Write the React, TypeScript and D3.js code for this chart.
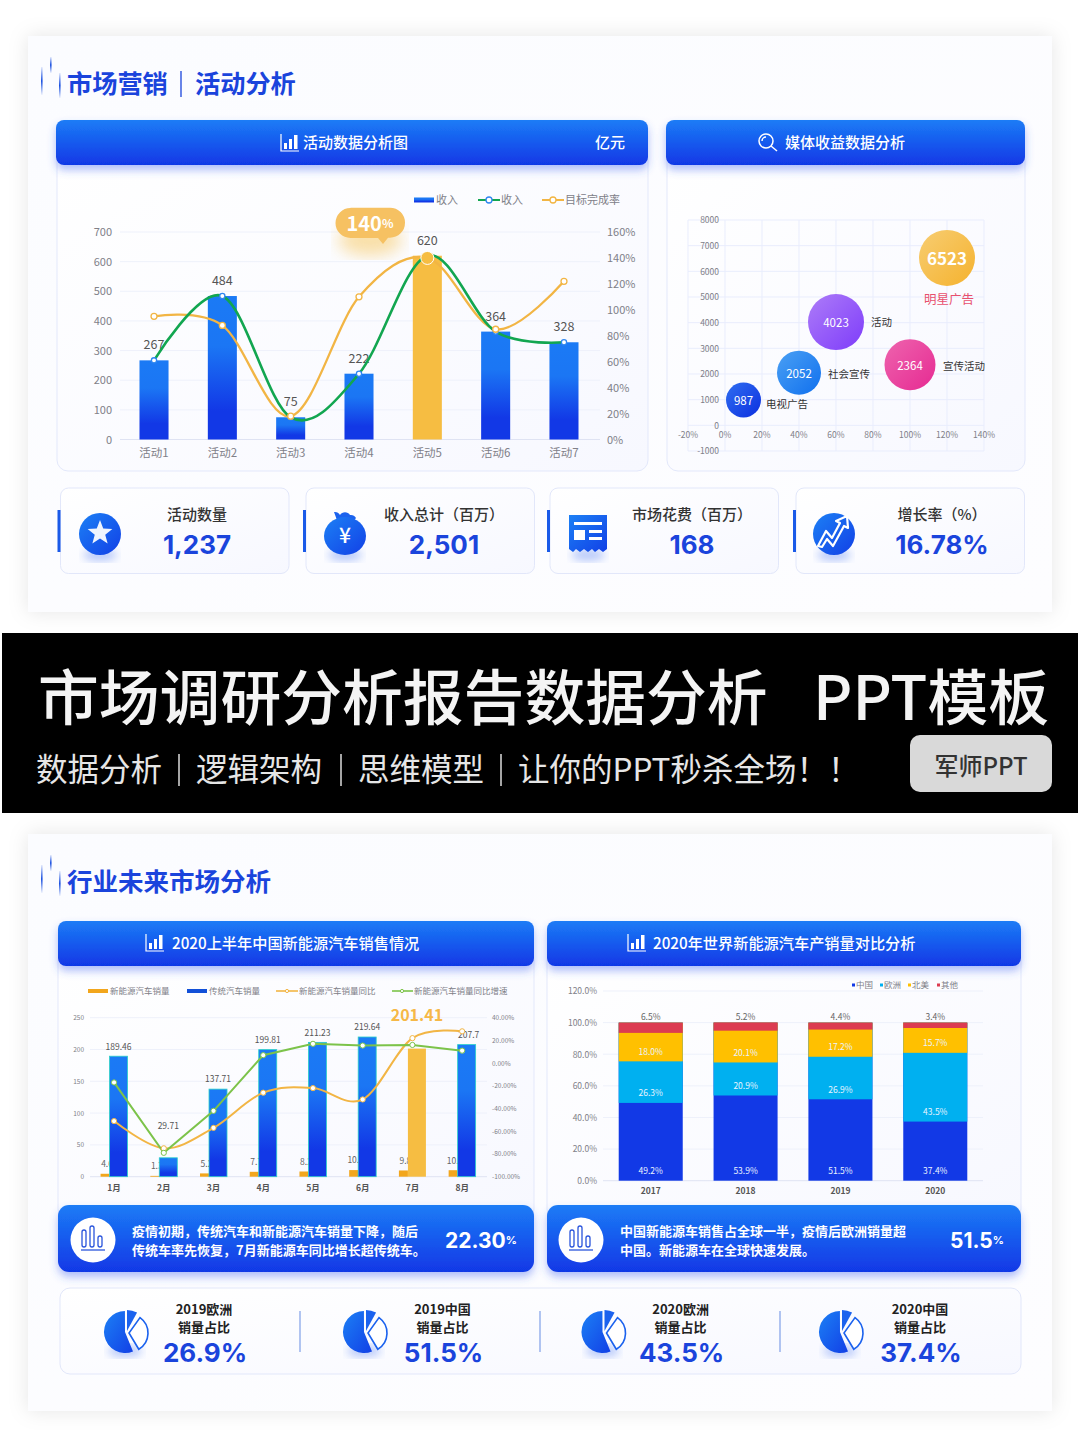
import React from "react";
import * as d3 from "d3";

const activityCats = ["活动1", "活动2", "活动3", "活动4", "活动5", "活动6", "活动7"];
const activityRevenue = [267, 484, 75, 222, 620, 364, 328];
const activityRate = [95, 88, 18, 110, 140, 85, 122];
const leftTicks = [0, 100, 200, 300, 400, 500, 600, 700];
const rightTicks = [0, 20, 40, 60, 80, 100, 120, 140, 160];

const bubbleNames = ["电视广告", "社会宣传", "活动", "宣传活动", "明星广告"];
const bubbleX = [10, 40, 60, 100, 120];
const bubbleY = [987, 2052, 4023, 2364, 6523];
const bubbleSize = [306, 484, 784, 650, 784];
const bubbleXTicks = [-20, 0, 20, 40, 60, 80, 100, 120, 140];
const bubbleYTicks = [-1000, 0, 1000, 2000, 3000, 4000, 5000, 6000, 7000, 8000];

const months = ["1月", "2月", "3月", "4月", "5月", "6月", "7月", "8月"];
const newEnergy = [4.6, 1.3, 5.2, 7.7, 8.2, 10.4, 9.8, 10.2];
const newEnergyLabels = ["4.6", "1.3", "5.2", "7.7", "8.2", "10.4", "9.8", "10.2"];
const traditional = [189.46, 29.71, 137.71, 199.81, 211.23, 219.64, 201.41, 207.7];
const newEnergyYoY = [-51, -75, -57, -26, -22, -32, 22, 28];
const newEnergyGrowth = [-17, -79, -42, 7, 17, 15.5, 16, 11];
const salesTicks = [0, 50, 100, 150, 200, 250];
const pctTicks = [40, 20, 0, -20, -40, -60, -80, -100];

const years = ["2017", "2018", "2019", "2020"];
const regionNames = ["中国", "欧洲", "北美", "其他"];
const regionColors = ["#1239e6", "#00b0f0", "#ffc000", "#dc3b50"];
const china = [49.2, 53.9, 51.5, 37.4];
const europe = [26.3, 20.9, 26.9, 43.5];
const northAmerica = [18.0, 20.1, 17.2, 15.7];
const others = [6.5, 5.2, 4.4, 3.4];
const shareTicks = [0, 20, 40, 60, 80, 100, 120];

const statTitles = ["活动数量", "收入总计（百万）", "市场花费（百万）", "增长率（%）"];
const statValues = ["1,237", "2,501", "168", "16.78%"];
const shareTitles = ["2019欧洲", "2019中国", "2020欧洲", "2020中国"];
const shareValues = ["26.9%", "51.5%", "43.5%", "37.4%"];

const CJK = '"Noto Sans CJK SC", "Noto Sans", sans-serif';
const NUM = 'Inter, "Noto Sans", sans-serif';
const BLUE = "#1a44dc";
const GRAY = "#808088";
const GRID = "#eef1fb";

const smooth = d3.curveCardinal.tension(0);

const T = ({ x, y, s = 11, c = GRAY, a = "start", w = 400, f = CJK, children, op }: any) => (
  <text x={x} y={f === CJK ? y - s * 0.08 : y - 1} fontSize={s} fill={c} textAnchor={a} fontWeight={w} fontFamily={f} dominantBaseline="central" opacity={op}>
    {children}
  </text>
);

const Dot = ({ x, y, r = 3, c, f = "#fff", sw = 1.3 }: any) => <circle cx={x} cy={y} r={r} fill={f} stroke={c} strokeWidth={sw} />;

const ChartIcon = ({ x, y }: any) => (
  <g transform={`translate(${x},${y})`} fill="#fff">
    <path d="M0 0V17H18" fill="none" stroke="#fff" strokeWidth="1.2" />
    <rect x="3" y="9" width="3" height="6" />
    <rect x="8" y="5" width="3" height="10" />
    <rect x="13" y="1" width="3.5" height="14" />
  </g>
);

const SectionTitle = ({ y, children }: any) => (
  <g>
    <rect x={41} y={y - 17} width={1.6} height={28} fill="url(#fadeLine)" />
    <rect x={50} y={y - 27} width={1.6} height={16} fill="url(#fadeLine)" />
    <rect x={59} y={y - 11} width={1.6} height={25} fill="url(#fadeLine)" />
    {children}
  </g>
);

const Header = ({ x, y, w, h = 45 }: any) => (
  <rect x={x} y={y} width={w} height={h} rx={8} fill="url(#headGrad)" filter="url(#blueShadow)" />
);

const Panel = ({ x, y, w, h }: any) => (
  <rect x={x} y={y} width={w} height={h} rx={11} fill="url(#panelGrad)" stroke="#e3e8fb" strokeWidth="1" />
);

function ActivityChart() {
  const x = d3.scaleBand<string>().domain(activityCats).range([119.85, 598.15]).paddingInner(0.575).paddingOuter(0.2875);
  const y = d3.scaleLinear().domain([0, 700]).range([439.5, 232]);
  const y2 = d3.scaleLinear().domain([0, 160]).range([439.5, 232]);
  const cx = (c: string) => x(c)! + x.bandwidth() / 2;
  const greenLine = d3.line<number>().x((_, i) => cx(activityCats[i])).y((d) => y(d)).curve(smooth);
  const orangeLine = d3.line<number>().x((_, i) => cx(activityCats[i])).y((d) => y2(d)).curve(smooth);
  return (
    <g>
      <rect x={414} y={197.5} width={20} height={5} fill="url(#barGrad)" />
      <T x={436} y={200} s={11}>收入</T>
      <line x1={478} x2={500} y1={200} y2={200} stroke="#12a650" strokeWidth="2" />
      <Dot x={489} y={200} c="#2f86f0" />
      <T x={501} y={200} s={11}>收入</T>
      <line x1={542} x2={564} y1={200} y2={200} stroke="#f2b544" strokeWidth="2" />
      <Dot x={553} y={200} c="#f2b544" />
      <T x={565} y={200} s={11}>目标完成率</T>

      {leftTicks.map((t) => (
        <g key={t}>
          <line x1={120} x2={600} y1={y(t)} y2={y(t)} stroke={t === 0 ? "#dfe3f3" : GRID} strokeWidth="1" />
          <T x={112} y={y(t)} a="end" s={11}>{t}</T>
        </g>
      ))}
      {rightTicks.map((t) => (
        <T key={t} x={607} y={y2(t)} s={11}>{t}%</T>
      ))}
      {activityCats.map((c, i) => (
        <g key={c}>
          <rect x={x(c)} y={y(activityRevenue[i])} width={x.bandwidth()} height={y(0) - y(activityRevenue[i])} fill={i === 4 ? "#f6bd42" : "url(#barGrad)"} />
          <T x={cx(c)} y={453} a="middle" s={11.5}>{c}</T>
          <T x={cx(c)} y={y(activityRevenue[i]) - 15.5} a="middle" s={12.5} c="#555">{activityRevenue[i]}</T>
        </g>
      ))}
      <path d={orangeLine(activityRate)!} fill="none" stroke="#f2b544" strokeWidth="2.3" />
      <path d={greenLine(activityRevenue)!} fill="none" stroke="#12a650" strokeWidth="2.6" />
      {activityCats.map((c, i) => i !== 4 && <Dot key={c} x={cx(c)} y={y(activityRevenue[i])} c="#2f86f0" r={2.6} />)}
      {activityCats.map((c, i) => i !== 4 && <Dot key={c} x={cx(c)} y={y2(activityRate[i])} c="#f2b544" r={3} />)}
      <Dot x={cx("活动5")} y={y2(140)} c="#fff" f="#f6bd42" r={6.5} sw={1} />
      <ellipse cx={370} cy={240} rx={32} ry={16} fill="#f6bd42" opacity="0.45" filter="url(#blur8)" />
      <path d="M350.5 207.7H390a15 15 0 0 1 15 15a15 15 0 0 1-15 15H388L383 244L378 238H350.5a15 15 0 0 1-15-15a15 15 0 0 1 15-15z" fill="#f6c162" />
      <text x={370} y={222} textAnchor="middle" dominantBaseline="central" fill="#fff" fontFamily={CJK} fontWeight={700}>
        <tspan fontSize={20}>140</tspan>
        <tspan fontSize={12}>%</tspan>
      </text>
    </g>
  );
}

function BubbleChart() {
  const x = d3.scaleLinear().domain([-20, 140]).range([688, 984]);
  const y = d3.scaleLinear().domain([-1000, 8000]).range([451, 220]);
  const r = d3.scaleSqrt().domain([0, 784]).range([0, 28]);
  const grads = ["bub0", "bub1", "bub2", "bub3", "bub4"];
  const labelX = [766, 828, 871, 943, 949];
  const labelY = [404, 374, 322, 366, 299];
  return (
    <g>
      {bubbleXTicks.map((t) => (
        <line key={t} x1={x(t)} x2={x(t)} y1={220} y2={451} stroke="#e9edfd" />
      ))}
      {bubbleYTicks.map((t) => (
        <g key={t}>
          <line x1={688} x2={984} y1={y(t)} y2={y(t)} stroke="#e9edfd" />
          <T x={719} y={y(t)} s={8.5} a="end">{t}</T>
        </g>
      ))}
      {bubbleXTicks.map((t) => (
        <T key={t} x={x(t)} y={435} s={8.5} a="middle">{t}%</T>
      ))}
      {bubbleNames.map((n, i) => {
        const last = i === 4;
        return (
          <g key={n}>
            <circle cx={x(bubbleX[i])} cy={y(bubbleY[i])} r={r(bubbleSize[i])} fill={`url(#${grads[i]})`} />
            <T x={x(bubbleX[i])} y={y(bubbleY[i]) + 1} a="middle" c="#fff" s={last ? 17 : 11.5} w={last ? 700 : 400}>{bubbleY[i]}</T>
            <T x={labelX[i]} y={labelY[i]} a={last ? "middle" : "start"} c={last ? "#e8506e" : "#333"} s={last ? 12.5 : 10.5}>{n}</T>
          </g>
        );
      })}
    </g>
  );
}

function SalesChart() {
  const x = d3.scaleBand<string>().domain(months).range([89.2, 487]).paddingInner(0.457).paddingOuter(0.2285);
  const y = d3.scaleLinear().domain([0, 250]).range([1176.7, 1017.7]);
  const y2 = d3.scaleLinear().domain([-100, 40]).range([1176.7, 1017.7]);
  const cx = (m: string) => x(m)! + x.bandwidth() / 2;
  const lineA = d3.line<number>().x((_, i) => cx(months[i])).y((d) => y2(d)).curve(smooth);
  const lineB = d3.line<number>().x((_, i) => cx(months[i])).y((d) => y2(d));
  const bw = x.bandwidth();
  const small = bw / 3;
  const big = (bw * 2) / 3;
  const labelGap = [10, 32, 10, 10, 10, 10, 33, 10];
  return (
    <g>
      <rect x={88} y={989} width={20} height={4} fill="#f2a61d" />
      <T x={110} y={991} s={8.5}>新能源汽车销量</T>
      <rect x={187} y={989} width={20} height={4} fill="#1250d8" />
      <T x={209} y={991} s={8.5}>传统汽车销量</T>
      <line x1={276} x2={298} y1={991} y2={991} stroke="#f2b544" strokeWidth="1.6" />
      <Dot x={287} y={991} c="#f2b544" r={1.6} sw={1} />
      <T x={299} y={991} s={8.5}>新能源汽车销量同比</T>
      <line x1={392} x2={413} y1={991} y2={991} stroke="#7cc34a" strokeWidth="1.6" />
      <Dot x={402} y={991} c="#7cc34a" r={1.6} sw={1} />
      <T x={414} y={991} s={8.5}>新能源汽车销量同比增速</T>
      {salesTicks.map((t) => (
        <g key={t}>
          <line x1={90} x2={487} y1={y(t)} y2={y(t)} stroke={t === 0 ? "#dfe3f3" : GRID} />
          <T x={84} y={y(t)} s={6.5} a="end">{t}</T>
        </g>
      ))}
      {pctTicks.map((t) => (
        <T key={t} x={492} y={y2(t)} s={6.5}>{t.toFixed(2)}%</T>
      ))}
      {months.map((m, i) => (
        <g key={m}>
          <rect x={x(m)} y={y(newEnergy[i])} width={small} height={y(0) - y(newEnergy[i])} fill="#f2a61d" />
          <T x={x(m)! + small / 2 + 2} y={y(newEnergy[i]) - 10} a="middle" s={8.5} c="#666">{newEnergyLabels[i]}</T>
        </g>
      ))}
      {months.map((m, i) => (
        <g key={m}>
          <rect x={x(m)! + small} y={y(traditional[i])} width={big} height={y(0) - y(traditional[i])} fill={i === 6 ? "#f6bd42" : "url(#barGrad)"} stroke={i === 6 ? "none" : "#2bd0c8"} strokeWidth="0.8" />
          <T x={x(m)! + small + big / 2 + (i === 7 ? 2 : 0)} y={y(traditional[i]) - labelGap[i]} a="middle" s={i === 6 ? 16 : 8.5} w={i === 6 ? 700 : 400} c={i === 6 ? "#f6b847" : "#555"}>{traditional[i]}</T>
          <T x={cx(m)} y={1188} a="middle" s={8.5} w={700} c="#555">{m}</T>
        </g>
      ))}
      <path d={lineA(newEnergyYoY)!} fill="none" stroke="#f2b544" strokeWidth="2" />
      <path d={lineB(newEnergyGrowth)!} fill="none" stroke="#7cc34a" strokeWidth="2" />
      {months.map((m, i) => <Dot key={m} x={cx(m)} y={y2(newEnergyYoY[i])} c="#f2b544" r={2.6} sw={1} />)}
      {months.map((m, i) => <Dot key={m} x={cx(m)} y={y2(newEnergyGrowth[i])} c="#7cc34a" r={2.6} sw={1} />)}
    </g>
  );
}

function ShareChart() {
  const x = d3.scaleBand<string>().domain(years).range([603.3, 982.7]).paddingInner(0.325).paddingOuter(0.1625);
  const y = d3.scaleLinear().domain([0, 120]).range([1180.7, 991]);
  const rows = years.map((yr, i) => ({ yr, a: china[i], b: europe[i], c: northAmerica[i], d: others[i] }));
  const series = d3.stack<any>().keys(["a", "b", "c", "d"])(rows);
  const legendX = [852, 880, 908, 937];
  return (
    <g>
      {regionNames.map((n, i) => (
        <g key={n}>
          <rect x={legendX[i]} y={983.5} width={3} height={3} fill={regionColors[i]} />
          <T x={legendX[i] + 4} y={985} s={8.5}>{n}</T>
        </g>
      ))}
      {shareTicks.map((t) => (
        <g key={t}>
          <line x1={603} x2={983} y1={y(t)} y2={y(t)} stroke={t === 0 ? "#dfe3f3" : GRID} />
          <T x={597} y={y(t)} a="end" s={8.5}>{t.toFixed(1)}%</T>
        </g>
      ))}
      {series.map((s, k) =>
        s.map((d, i) => {
          const x0 = x(years[i])!;
          const top = Math.min(y(d[1]), y(100));
          return <rect key={`${k}-${i}`} x={x0} y={top} width={x.bandwidth()} height={y(d[0]) - top} fill={regionColors[k]} />;
        })
      )}
      {series.map((s, k) =>
        s.map((d, i) => {
          const mid = x(years[i])! + x.bandwidth() / 2;
          const ly = k === 3 ? y(100) - 6 : y(d[0]) - 10;
          return (
            <T key={`${k}-${i}`} x={mid} y={ly} a="middle" s={8.5} c={k === 3 ? "#666" : "#eaf4ff"}>{(d[1] - d[0]).toFixed(1)}%</T>
          );
        })
      )}
      {years.map((yr) => (
        <T key={yr} x={x(yr)! + x.bandwidth() / 2} y={1191} a="middle" s={8.5} w={700} c="#555">{yr}</T>
      ))}
    </g>
  );
}

const starPath = (cx: number, cy: number, R: number, r: number) =>
  d3.range(10).map((i) => {
    const a = -Math.PI / 2 + (i * Math.PI) / 5;
    const q = i % 2 ? r : R;
    return `${i ? "L" : "M"}${cx + q * Math.cos(a)} ${cy + q * Math.sin(a)}`;
  }).join("") + "Z";

const IconShadow = ({ x, y }: any) => <ellipse cx={x} cy={y + 20} rx={17} ry={6} fill="#3a6cf0" opacity="0.35" filter="url(#blur4)" />;

function StatCards() {
  const cards = [60.5, 306, 550, 796];
  const iconX = [100, 345, 588, 834];
  const textX = [197, 444, 692, 942];
  return (
    <g>
      {cards.map((cx, i) => (
        <g key={i}>
          <rect x={cx} y={488} width={228.5} height={85.5} rx={8} fill="url(#panelGrad)" stroke="#e2e7fa" />
          <rect x={cx - 3} y={510} width={3} height={42} fill="#1a5ae8" />
          <IconShadow x={iconX[i]} y={535} />
          <T x={textX[i]} y={514.5} a="middle" s={15} c="#333" w={500}>{statTitles[i]}</T>
          <T x={textX[i]} y={545} a="middle" s={26} c={BLUE} w={700} f={NUM}>{statValues[i]}</T>
        </g>
      ))}
      <circle cx={100} cy={534} r={21} fill="url(#iconGrad)" />
      <path d={starPath(100, 533, 13, 5.5)} fill="#fff" opacity="0.93" />
      <g>
        <path d="M334 512a6 6 0 0 1 6 3a6 6 0 0 1 10 0a6 6 0 0 1 6 3l-4 5h-14z" fill="#1b62ee" />
        <ellipse cx={345} cy={536} rx={21} ry={19} fill="url(#iconGrad)" />
        <T x={345} y={536} a="middle" s={21} c="#fff" w={500}>¥</T>
      </g>
      <g>
        <path d="M569 515h38v34l-4 3l-4-3l-4 3l-3-3l-4 3l-4-3l-4 3l-4-3l-3 3l-4-3z" fill="url(#iconGrad)" />
        <rect x={574} y={522} width={28} height={3} fill="#fff" />
        <rect x={574} y={530} width={11} height={10} fill="#fff" />
        <rect x={589} y={530} width={13} height={3} fill="#fff" />
        <rect x={589} y={537} width={13} height={3} fill="#fff" />
      </g>
      <circle cx={834} cy={534} r={21} fill="url(#iconGrad)" />
      <path d="M818 546l8-15l6 7l8-15l-4-2l11-5l1 12l-4-2l-11 20l-6-7l-5 8z" fill="none" stroke="#fff" strokeWidth="2.2" strokeLinejoin="round" />
    </g>
  );
}

function PieIcon({ x, y }: any) {
  const arc = d3.arc<any>().innerRadius(0).outerRadius(21);
  return (
    <g transform={`translate(${x},${y})`}>
      <ellipse cx={0} cy={19} rx={17} ry={6} fill="#3a6cf0" opacity="0.35" filter="url(#blur4)" />
      <path d={arc({ startAngle: 2.75, endAngle: 6.28 })!} fill="url(#iconGrad)" />
      <path transform="translate(2,-1)" d={arc({ startAngle: 0, endAngle: 0.5 })!} fill="#1b62ee" />
      <path transform="translate(4,1)" d={d3.arc<any>().innerRadius(0).outerRadius(19)({ startAngle: 0.62, endAngle: 2.6 })!} fill="#fff" stroke="#1b62ee" strokeWidth="1.6" />
    </g>
  );
}

function Callout({ x, w, cx, lines, textX, value, unit, vx }: any) {
  return (
    <g>
      <rect x={x} y={1205} width={w} height={67} rx={11} fill="url(#headGrad)" filter="url(#blueShadow)" />
      <circle cx={cx} cy={1240} r={22.5} fill="#fff" />
      <g stroke="#2a55dc" strokeWidth="1.3" fill="none">
        <rect x={cx - 11} y={1230} width={4} height={17} rx={2} />
        <rect x={cx - 3} y={1226} width={4} height={21} rx={2} />
        <rect x={cx + 5} y={1236} width={4} height={11} rx={2} />
        <line x1={cx - 12} x2={cx + 12} y1={1250} y2={1250} />
      </g>
      {lines.map((l: string, i: number) => (
        <T key={i} x={textX} y={1231.5 + i * 19} s={13} c="#fff" w={700}>{l}</T>
      ))}
      <text x={vx} y={1240} dominantBaseline="central" fill="#fff" fontFamily={NUM} fontWeight={700}>
        <tspan fontSize={21}>{value}</tspan>
        <tspan fontSize={11}>{unit}</tspan>
      </text>
    </g>
  );
}

export default function App() {
  const pieX = [125, 364, 602.5, 840];
  const shareX = [204, 442.5, 680.6, 920];
  return (
    <svg width={1080} height={1441} viewBox="0 0 1080 1441" style={{ position: "absolute", left: 0, top: 0, display: "block" }}>
      <defs>
        <linearGradient id="headGrad" x1="0" x2="0" y1="0" y2="1">
          <stop offset="0" stopColor="#1c7cf6" />
          <stop offset="1" stopColor="#1138e6" />
        </linearGradient>
        <linearGradient id="barGrad" x1="0" x2="0" y1="0" y2="1">
          <stop offset="0" stopColor="#1b7af5" />
          <stop offset="0.35" stopColor="#1b76f4" />
          <stop offset="0.8" stopColor="#1238e6" />
          <stop offset="1" stopColor="#1238e6" />
        </linearGradient>
        <linearGradient id="panelGrad" x1="0" x2="1" y1="0" y2="1">
          <stop offset="0" stopColor="#ffffff" />
          <stop offset="1" stopColor="#f7f8ff" />
        </linearGradient>
        <linearGradient id="cardGrad" x1="0" x2="1" y1="0" y2="1">
          <stop offset="0" stopColor="#fbfcff" />
          <stop offset="1" stopColor="#fdfdff" />
        </linearGradient>
        <linearGradient id="iconGrad" x1="0" x2="1" y1="0" y2="1">
          <stop offset="0" stopColor="#1c80f5" />
          <stop offset="1" stopColor="#1240e6" />
        </linearGradient>
        <linearGradient id="fadeLine" x1="0" x2="0" y1="0" y2="1">
          <stop offset="0" stopColor="#1a50e0" stopOpacity="0.1" />
          <stop offset="0.5" stopColor="#1a50e0" />
          <stop offset="1" stopColor="#1a50e0" stopOpacity="0.05" />
        </linearGradient>
        <linearGradient id="bub0" x1="0" x2="1" y1="0" y2="1"><stop offset="0" stopColor="#2f6ef0" /><stop offset="1" stopColor="#0d2fe0" /></linearGradient>
        <linearGradient id="bub1" x1="0" x2="1" y1="0" y2="1"><stop offset="0" stopColor="#4aa0f4" /><stop offset="1" stopColor="#1070ee" /></linearGradient>
        <linearGradient id="bub2" x1="0" x2="1" y1="0" y2="1"><stop offset="0" stopColor="#ad7cf8" /><stop offset="1" stopColor="#7e3cfa" /></linearGradient>
        <linearGradient id="bub3" x1="0" x2="1" y1="0" y2="1"><stop offset="0" stopColor="#ee64ae" /><stop offset="1" stopColor="#e62a92" /></linearGradient>
        <linearGradient id="bub4" x1="0" x2="1" y1="0" y2="1"><stop offset="0" stopColor="#f7cd72" /><stop offset="1" stopColor="#f5b22e" /></linearGradient>
        <filter id="blueShadow" x="-5%" y="-20%" width="110%" height="160%">
          <feDropShadow dx="0" dy="5" stdDeviation="4" floodColor="#3a5cf0" floodOpacity="0.4" />
        </filter>
        <filter id="cardShadow" x="-5%" y="-5%" width="110%" height="110%">
          <feDropShadow dx="0" dy="0" stdDeviation="10" floodColor="#000" floodOpacity="0.1" />
        </filter>
        <filter id="blur8"><feGaussianBlur stdDeviation="8" /></filter>
        <filter id="blur4"><feGaussianBlur stdDeviation="4" /></filter>
      </defs>

      <rect width={1080} height={1441} fill="#ffffff" />
      <rect x={28} y={36} width={1024} height={576} fill="url(#cardGrad)" filter="url(#cardShadow)" />
      <rect x={28} y={834} width={1024} height={577} fill="url(#cardGrad)" filter="url(#cardShadow)" />

      <SectionTitle y={84}>
        <T x={67} y={84} s={25.2} w={700} c={BLUE}>市场营销</T>
        <line x1={181} x2={181} y1={71} y2={97} stroke={BLUE} strokeWidth="1.3" />
        <T x={195} y={84} s={25.2} w={700} c={BLUE}>活动分析</T>
      </SectionTitle>

      <Panel x={57} y={150} w={591} h={321} />
      <Panel x={667} y={150} w={358} h={321} />
      <Header x={56} y={120} w={592} />
      <Header x={666} y={120} w={359} />
      <ChartIcon x={281} y={134} />
      <T x={303} y={143} s={15} c="#fff" w={500}>活动数据分析图</T>
      <T x={595} y={143} s={15} c="#fff" w={500}>亿元</T>
      <g fill="none" stroke="#fff" strokeWidth="1.5">
        <circle cx={766} cy={141} r={7} />
        <line x1={771} x2={777} y1={146} y2={151} />
        <path d="M762 141a4 4 0 0 1 4-4" />
      </g>
      <T x={785} y={143} s={15} c="#fff" w={500}>媒体收益数据分析</T>

      <ActivityChart />
      <BubbleChart />
      <StatCards />

      <rect x={2} y={633} width={1076} height={180} fill="#000" />
      <T x={38} y={698} s={60.8} c="#f4f4f4" w={500}>市场调研分析报告数据分析</T>
      <T x={813} y={698} s={60.8} c="#f4f4f4" w={500}>PPT模板</T>
      <T x={36} y={770} s={31.5} c="#e6e6e6">数据分析</T>
      <line x1={179} x2={179} y1={754} y2={786} stroke="#ddd" strokeWidth="1.5" />
      <T x={196} y={770} s={31.5} c="#e6e6e6">逻辑架构</T>
      <line x1={341} x2={341} y1={754} y2={786} stroke="#ddd" strokeWidth="1.5" />
      <T x={358} y={770} s={31.5} c="#e6e6e6">思维模型</T>
      <line x1={501} x2={501} y1={754} y2={786} stroke="#ddd" strokeWidth="1.5" />
      <T x={518} y={770} s={31.5} c="#e6e6e6">让你的PPT秒杀全场！！</T>
      <rect x={910} y={735} width={142} height={57} rx={10} fill="#d9d9d9" />
      <T x={981} y={766} s={24} a="middle" c="#333" w={500}>军师PPT</T>

      <SectionTitle y={882}>
        <T x={67} y={882} s={25.5} w={700} c={BLUE}>行业未来市场分析</T>
      </SectionTitle>

      <Panel x={58} y={950} w={476} h={270} />
      <Panel x={547} y={950} w={474} h={270} />
      <Header x={58} y={921} w={476} />
      <Header x={547} y={921} w={474} />
      <ChartIcon x={146} y={934} />
      <T x={172} y={943} s={15.2} c="#fff" w={500}>2020上半年中国新能源汽车销售情况</T>
      <ChartIcon x={628} y={934} />
      <T x={653} y={943} s={15.2} c="#fff" w={500}>2020年世界新能源汽车产销量对比分析</T>

      <SalesChart />
      <ShareChart />

      <Callout x={58} w={476} cx={93} textX={132} vx={445} value="22.30" unit="%"
        lines={["疫情初期，传统汽车和新能源汽车销量下降，随后", "传统车率先恢复，7月新能源车同比增长超传统车。"]} />
      <Callout x={547} w={474} cx={581} textX={620} vx={950} value="51.5" unit="%"
        lines={["中国新能源车销售占全球一半，疫情后欧洲销量超", "中国。新能源车在全球快速发展。"]} />

      <rect x={60} y={1288} width={961} height={86} rx={10} fill="url(#panelGrad)" stroke="#e2e7fa" />
      {[300, 540, 780].map((d) => (
        <line key={d} x1={d} x2={d} y1={1311} y2={1352} stroke="#7f9fe8" strokeWidth="1.2" />
      ))}
      {shareTitles.map((t, i) => (
        <g key={t}>
          <PieIcon x={pieX[i]} y={1332} />
          <T x={shareX[i]} y={1310} a="middle" s={13} c="#222" w={700}>{t}</T>
          <T x={shareX[i]} y={1328} a="middle" s={13} c="#222" w={700}>销量占比</T>
          <T x={shareX[i] + 1} y={1353} a="middle" s={26} c={BLUE} w={700} f={NUM}>{shareValues[i]}</T>
        </g>
      ))}
    </svg>
  );
}
